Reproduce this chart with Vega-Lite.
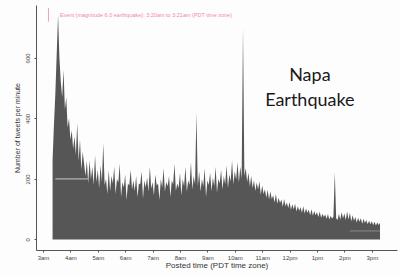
{
  "$schema": "https://vega.github.io/schema/vega-lite/v6.json",
  "width": 361,
  "height": 245,
  "autosize": {"type": "none"},
  "padding": {"left": 36, "top": 5, "right": 3, "bottom": 25},
  "background": "#fdfdfd",
  "data": {"values": [{}]},
  "config": {
    "view": {"stroke": null},
    "font": "Liberation Sans",
    "axis": {"grid": false, "domainColor": "#555", "tickColor": "#555", "labelColor": "#444", "titleColor": "#333", "labelFont": "Liberation Sans", "titleFont": "Liberation Sans", "titleFontWeight": "normal", "labelOverlap": false}
  },
  "datasets": {
    "tweets": [
      {"t":3.35,"v":262},{"t":3.40,"v":380},{"t":3.45,"v":480},{"t":3.50,"v":610},{"t":3.55,"v":743},
      {"t":3.60,"v":600},{"t":3.65,"v":520},{"t":3.70,"v":470},{"t":3.75,"v":560},{"t":3.80,"v":430},
      {"t":3.85,"v":470},{"t":3.90,"v":370},{"t":3.95,"v":400},{"t":4.00,"v":330},{"t":4.05,"v":360},
      {"t":4.10,"v":300},{"t":4.15,"v":340},{"t":4.20,"v":280},{"t":4.25,"v":384},{"t":4.30,"v":260},
      {"t":4.35,"v":330},{"t":4.40,"v":230},{"t":4.45,"v":290},{"t":4.50,"v":250},{"t":4.55,"v":210},
      {"t":4.60,"v":260},{"t":4.65,"v":186},{"t":4.70,"v":262},{"t":4.75,"v":200},{"t":4.80,"v":240},
      {"t":4.85,"v":180},{"t":4.90,"v":278},{"t":4.95,"v":190},{"t":5.00,"v":230},{"t":5.05,"v":170},
      {"t":5.10,"v":245},{"t":5.15,"v":190},{"t":5.20,"v":318},{"t":5.25,"v":180},{"t":5.30,"v":200},
      {"t":5.35,"v":150},{"t":5.40,"v":229},{"t":5.45,"v":160},{"t":5.50,"v":210},{"t":5.55,"v":185},
      {"t":5.60,"v":240},{"t":5.65,"v":150},{"t":5.70,"v":200},{"t":5.75,"v":188},{"t":5.80,"v":250},
      {"t":5.85,"v":140},{"t":5.90,"v":190},{"t":5.95,"v":172},{"t":6.00,"v":215},{"t":6.05,"v":130},
      {"t":6.10,"v":185},{"t":6.15,"v":178},{"t":6.20,"v":230},{"t":6.25,"v":165},{"t":6.30,"v":195},
      {"t":6.35,"v":160},{"t":6.40,"v":210},{"t":6.45,"v":140},{"t":6.50,"v":185},{"t":6.55,"v":182},
      {"t":6.60,"v":225},{"t":6.65,"v":135},{"t":6.70,"v":195},{"t":6.75,"v":172},{"t":6.80,"v":205},
      {"t":6.85,"v":158},{"t":6.90,"v":240},{"t":6.95,"v":168},{"t":7.00,"v":190},{"t":7.05,"v":145},
      {"t":7.10,"v":215},{"t":7.15,"v":178},{"t":7.20,"v":185},{"t":7.25,"v":130},{"t":7.30,"v":200},
      {"t":7.35,"v":172},{"t":7.40,"v":235},{"t":7.45,"v":158},{"t":7.50,"v":190},{"t":7.55,"v":176},
      {"t":7.60,"v":210},{"t":7.65,"v":140},{"t":7.70,"v":195},{"t":7.75,"v":182},{"t":7.80,"v":250},
      {"t":7.85,"v":160},{"t":7.90,"v":185},{"t":7.95,"v":170},{"t":8.00,"v":220},{"t":8.05,"v":145},
      {"t":8.10,"v":200},{"t":8.15,"v":176},{"t":8.20,"v":240},{"t":8.25,"v":158},{"t":8.30,"v":195},
      {"t":8.35,"v":180},{"t":8.40,"v":255},{"t":8.45,"v":165},{"t":8.50,"v":210},{"t":8.55,"v":182},
      {"t":8.60,"v":420},{"t":8.65,"v":175},{"t":8.70,"v":225},{"t":8.75,"v":158},{"t":8.80,"v":200},
      {"t":8.85,"v":176},{"t":8.90,"v":235},{"t":8.95,"v":140},{"t":9.00,"v":195},{"t":9.05,"v":180},
      {"t":9.10,"v":220},{"t":9.15,"v":160},{"t":9.20,"v":205},{"t":9.25,"v":176},{"t":9.30,"v":240},
      {"t":9.35,"v":155},{"t":9.40,"v":200},{"t":9.45,"v":185},{"t":9.50,"v":230},{"t":9.55,"v":165},
      {"t":9.60,"v":210},{"t":9.65,"v":182},{"t":9.70,"v":245},{"t":9.75,"v":170},{"t":9.80,"v":215},
      {"t":9.85,"v":192},{"t":9.90,"v":260},{"t":9.95,"v":182},{"t":10.00,"v":225},{"t":10.05,"v":198},
      {"t":10.10,"v":255},{"t":10.15,"v":188},{"t":10.20,"v":240},{"t":10.25,"v":202},{"t":10.30,"v":700},
      {"t":10.35,"v":210},{"t":10.40,"v":235},{"t":10.45,"v":190},{"t":10.50,"v":220},{"t":10.55,"v":175},
      {"t":10.60,"v":210},{"t":10.65,"v":170},{"t":10.70,"v":196},{"t":10.75,"v":160},{"t":10.80,"v":188},
      {"t":10.85,"v":165},{"t":10.90,"v":192},{"t":10.95,"v":148},{"t":11.00,"v":178},{"t":11.05,"v":150},
      {"t":11.10,"v":166},{"t":11.15,"v":138},{"t":11.20,"v":164},{"t":11.25,"v":132},{"t":11.30,"v":158},
      {"t":11.35,"v":134},{"t":11.40,"v":146},{"t":11.45,"v":122},{"t":11.50,"v":150},{"t":11.55,"v":118},
      {"t":11.60,"v":138},{"t":11.65,"v":120},{"t":11.70,"v":132},{"t":11.75,"v":108},{"t":11.80,"v":134},
      {"t":11.85,"v":110},{"t":11.90,"v":122},{"t":11.95,"v":104},{"t":12.00,"v":124},{"t":12.05,"v":98},
      {"t":12.10,"v":116},{"t":12.15,"v":100},{"t":12.20,"v":118},{"t":12.25,"v":92},{"t":12.30,"v":110},
      {"t":12.35,"v":95},{"t":12.40,"v":106},{"t":12.45,"v":88},{"t":12.50,"v":110},{"t":12.55,"v":86},
      {"t":12.60,"v":102},{"t":12.65,"v":88},{"t":12.70,"v":98},{"t":12.75,"v":80},{"t":12.80,"v":100},
      {"t":12.85,"v":78},{"t":12.90,"v":94},{"t":12.95,"v":80},{"t":13.00,"v":90},{"t":13.05,"v":74},
      {"t":13.10,"v":92},{"t":13.15,"v":72},{"t":13.20,"v":85},{"t":13.25,"v":74},{"t":13.30,"v":82},
      {"t":13.35,"v":68},{"t":13.40,"v":84},{"t":13.45,"v":66},{"t":13.50,"v":78},{"t":13.55,"v":68},
      {"t":13.60,"v":76},{"t":13.65,"v":222},{"t":13.70,"v":70},{"t":13.75,"v":64},{"t":13.80,"v":84},
      {"t":13.85,"v":66},{"t":13.90,"v":90},{"t":13.95,"v":70},{"t":14.00,"v":86},{"t":14.05,"v":64},
      {"t":14.10,"v":92},{"t":14.15,"v":66},{"t":14.20,"v":88},{"t":14.25,"v":60},{"t":14.30,"v":80},
      {"t":14.35,"v":62},{"t":14.40,"v":74},{"t":14.45,"v":56},{"t":14.50,"v":72},{"t":14.55,"v":58},
      {"t":14.60,"v":70},{"t":14.65,"v":52},{"t":14.70,"v":68},{"t":14.75,"v":54},{"t":14.80,"v":64},
      {"t":14.85,"v":50},{"t":14.90,"v":62},{"t":14.95,"v":50},{"t":15.00,"v":60},{"t":15.05,"v":48},
      {"t":15.10,"v":58},{"t":15.15,"v":46},{"t":15.20,"v":56},{"t":15.25,"v":48},{"t":15.30,"v":55}
    ]
  },
  "layer": [
    {
      "data": {"name": "tweets"},
      "mark": {"type": "area", "color": "#565656", "interpolate": "linear"},
      "encoding": {
        "x": {
          "field": "t", "type": "quantitative",
          "scale": {"domain": [2.745, 15.92], "nice": false, "zero": false},
          "axis": {
            "values": [3,4,5,6,7,8,9,10,11,12,13,14,15],
            "tickCount": 20,
            "labelExpr": "datum.value == 12 ? '12pm' : (datum.value < 12 ? datum.value + 'am' : (datum.value - 12) + 'pm')",
            "labelOverlap": false,
            "labelFontSize": 6, "tickSize": 2, "labelPadding": 2,
            "title": "Posted time (PDT time zone)", "titleFontSize": 8, "titlePadding": 1
          }
        },
        "y": {
          "field": "v", "type": "quantitative",
          "scale": {"domain": [-35, 775], "nice": false, "zero": false},
          "axis": {
            "values": [0,200,400,600], "tickCount": 10, "labelAngle": -90, "labelFontSize": 6, "tickSize": 2, "labelPadding": 4,
            "labelOverlap": false,
            "title": "Number of tweets per minute", "titleFontSize": 7, "titlePadding": 4
          }
        }
      }
    },
    {
      "mark": {"type": "rule", "color": "#c8c8c8", "strokeWidth": 1},
      "encoding": {"x": {"datum": 3.45}, "x2": {"datum": 4.64}, "y": {"datum": 200}}
    },
    {
      "mark": {"type": "rule", "color": "#8a8a8a", "strokeWidth": 1},
      "encoding": {"x": {"datum": 14.2}, "x2": {"datum": 15.3}, "y": {"datum": 28}}
    },
    {
      "mark": {"type": "rule", "color": "#f0a0b4", "strokeWidth": 1},
      "encoding": {"x": {"datum": 3.2}, "y": {"datum": 720}, "y2": {"datum": 765}}
    },
    {
      "mark": {"type": "text", "align": "left", "baseline": "middle", "fontSize": 5.5, "color": "#f08aa4", "font": "Liberation Sans"},
      "encoding": {"x": {"datum": 3.62}, "y": {"datum": 742}, "text": {"value": "Event (magnitude 6.0 earthquake): 3:20am to 3:21am (PDT time zone)"}}
    },
    {
      "mark": {"type": "text", "align": "center", "baseline": "middle", "fontSize": 18, "lineHeight": 25, "color": "#1a1a1a", "font": "Lato"},
      "encoding": {"x": {"datum": 12.74}, "y": {"datum": 540}, "text": {"value": ["Napa", "Earthquake"]}}
    }
  ]
}
